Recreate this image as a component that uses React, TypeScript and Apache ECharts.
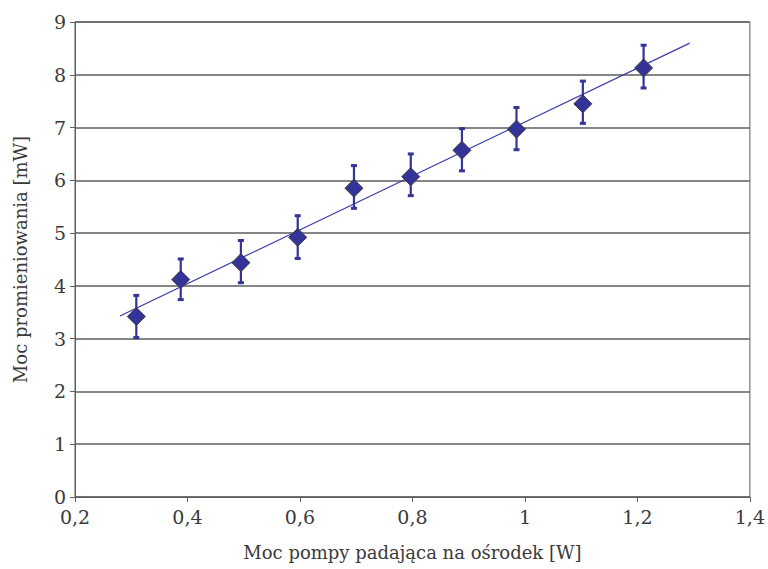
import React, { useEffect, useRef } from "react";
import * as echarts from "echarts";

const pumpPower = [0.309, 0.388, 0.495, 0.596, 0.696, 0.797, 0.888, 0.985, 1.103, 1.211];
const outputPower = [3.42, 4.12, 4.44, 4.92, 5.85, 6.07, 6.57, 6.97, 7.45, 8.13];
const errLow = [3.02, 3.74, 4.06, 4.52, 5.47, 5.71, 6.18, 6.58, 7.08, 7.75];
const errHigh = [3.82, 4.51, 4.86, 5.33, 6.28, 6.50, 6.98, 7.38, 7.88, 8.56];
const trendX = [0.28, 1.293];
const trendY = [3.43, 8.6];

const xTitle = "Moc pompy padająca na ośrodek [W]";
const yTitle = "Moc promieniowania [mW]";

const FONT = "DejaVu Serif";
const TEXT = "#3a3a3a";
const GRID = "#5a5f5f";
const NAVY = "#333399";

export default function App() {
  const ref = useRef<HTMLDivElement>(null);
  useEffect(() => {
    if (!ref.current) return;
    const chart = echarts.init(ref.current, undefined, { renderer: "svg" });
    const fmt = (v: number) => String(Math.round(v * 10) / 10).replace(".", ",");
    chart.setOption({
      animation: false,
      backgroundColor: "#ffffff",
      grid: {
        left: 75,
        right: 17,
        top: 22,
        bottom: 72,
        show: true,
        borderColor: GRID,
        borderWidth: 1,
        backgroundColor: "transparent",
      },
      xAxis: {
        type: "value",
        min: 0.2,
        max: 1.4,
        interval: 0.2,
        name: xTitle,
        nameLocation: "middle",
        nameGap: 46,
        nameTextStyle: { fontFamily: FONT, fontSize: 18, color: TEXT },
        axisLine: { show: true, lineStyle: { color: GRID, width: 1 } },
        axisTick: { show: true, length: 5, lineStyle: { color: GRID } },
        axisLabel: { fontFamily: FONT, fontSize: 19, color: TEXT, margin: 10, formatter: fmt },
        splitLine: { show: false },
      },
      yAxis: {
        type: "value",
        min: 0,
        max: 9,
        interval: 1,
        name: yTitle,
        nameLocation: "middle",
        nameGap: 46,
        nameRotate: 90,
        nameTextStyle: { fontFamily: FONT, fontSize: 18, color: TEXT },
        axisLine: { show: true, lineStyle: { color: GRID, width: 1 } },
        axisTick: { show: true, length: 5, lineStyle: { color: GRID } },
        axisLabel: { fontFamily: FONT, fontSize: 19, color: TEXT, margin: 9, formatter: fmt },
        splitLine: { show: true, lineStyle: { color: GRID, width: 1.5 } },
      },
      series: [
        {
          type: "line",
          data: trendX.map((x, i) => [x, trendY[i]]),
          showSymbol: false,
          symbol: "none",
          lineStyle: { color: "#3b3bab", width: 1.2 },
          z: 2,
        },
        {
          type: "custom",
          data: pumpPower.map((x, i) => [x, errLow[i], errHigh[i]]),
          z: 3,
          renderItem: (params: any, api: any) => {
            const x = api.value(0);
            const lo = api.coord([x, api.value(1)]);
            const hi = api.coord([x, api.value(2)]);
            const style = { stroke: NAVY, lineWidth: 2.2 };
            return {
              type: "group",
              children: [
                { type: "line", shape: { x1: lo[0], y1: lo[1], x2: hi[0], y2: hi[1] }, style },
                { type: "rect", shape: { x: hi[0] - 3, y: hi[1] - 1.5, width: 6, height: 3 }, style: { fill: NAVY } },
                { type: "rect", shape: { x: lo[0] - 3, y: lo[1] - 1.5, width: 6, height: 3 }, style: { fill: NAVY } },
              ],
            };
          },
        },
        {
          type: "scatter",
          data: pumpPower.map((x, i) => [x, outputPower[i]]),
          symbol: "diamond",
          symbolSize: [18, 18],
          itemStyle: { color: NAVY, borderColor: "#3c3c3c", borderWidth: 1, opacity: 1 },
          z: 4,
        },
      ],
    });
    return () => chart.dispose();
  }, []);
  return (
    <div
      ref={ref}
      style={{ position: "fixed", left: 0, top: 0, width: 768, height: 569, background: "#fff" }}
    />
  );
}
